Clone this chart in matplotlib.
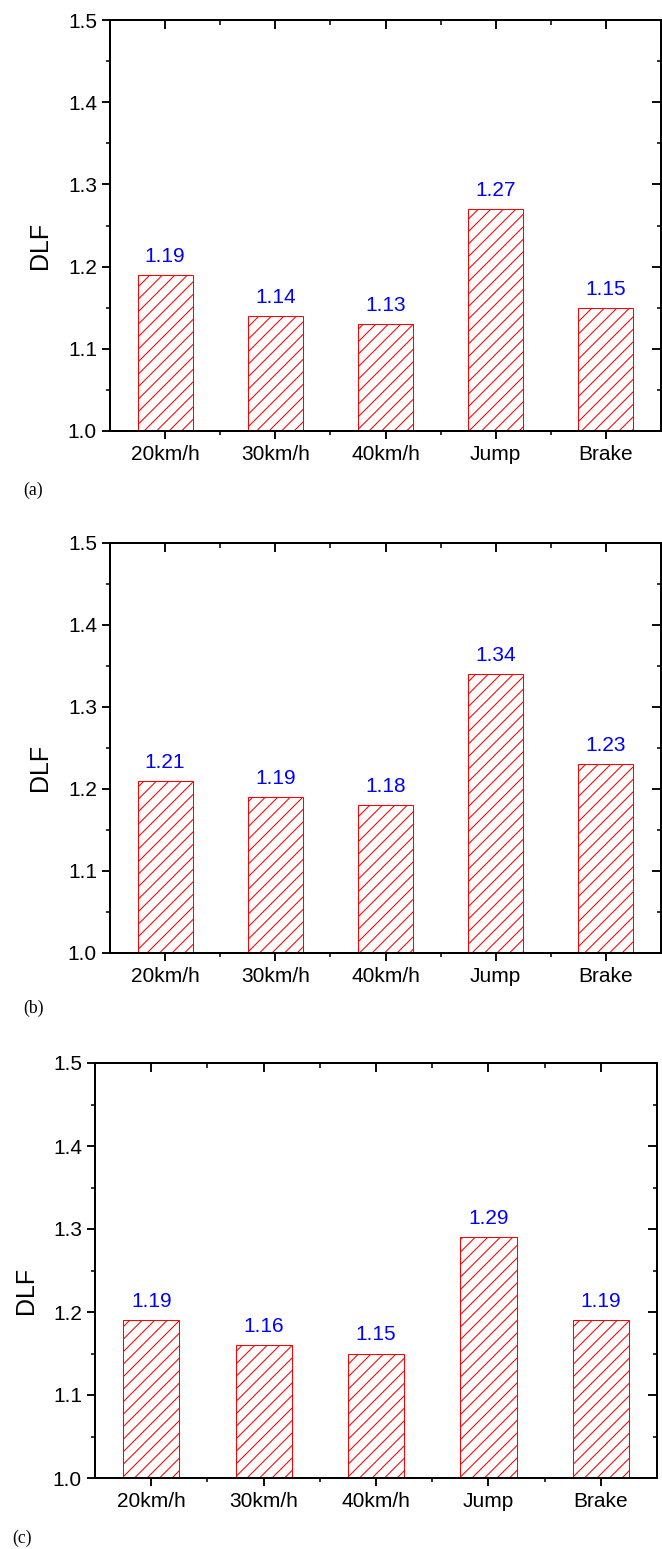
import matplotlib
matplotlib.use("Agg")
import matplotlib.pyplot as plt
from matplotlib.ticker import MultipleLocator, FixedLocator, NullFormatter

categories = ['20km/h', '30km/h', '40km/h', 'Jump', 'Brake']
dlf_a = [1.19, 1.14, 1.13, 1.27, 1.15]
dlf_b = [1.21, 1.19, 1.18, 1.34, 1.23]
dlf_c = [1.19, 1.16, 1.15, 1.29, 1.19]
panel_labels = ['(a)', '(b)', '(c)']
ylabel = 'DLF'

W, H = 662, 1549
DPI = 75
plt.rcParams['font.family'] = ['Liberation Sans', 'DejaVu Sans']
plt.rcParams['hatch.linewidth'] = 1.0
plt.rcParams['hatch.color'] = '#FF0000'

fig = plt.figure(figsize=(W / DPI, H / DPI), dpi=DPI)

# (left, right, top, bottom) in pixels
boxes = [(110, 661, 20, 431), (110, 661, 543, 953), (95, 657, 1063, 1478)]
ylab_pos = [(40, 245), (40, 767), (26, 1290)]
plab_pos = [(23, 490), (23, 1008), (12, 1538)]
datasets = [dlf_a, dlf_b, dlf_c]

fs = 20
for (l, r, t, b), data, (yx, yy), (px, py), plab in zip(boxes, datasets, ylab_pos, plab_pos, panel_labels):
    ax = fig.add_axes([l / W, 1 - b / H, (r - l) / W, (b - t) / H])
    x = list(range(1, len(categories) + 1))
    ax.bar(x, data, width=0.5, bottom=0, color='white', edgecolor='#FF0000',
           linewidth=1.0, hatch='//')
    for xi, v in zip(x, data):
        ax.annotate(f'{v:.2f}', (xi, v), xytext=(0, 12.5), textcoords='offset points',
                    ha='center', va='baseline', color='#0000FF', fontsize=fs)
    ax.set_xlim(0.5, 5.5)
    ax.set_ylim(1.0, 1.5)
    ax.set_xticks(x)
    ax.set_xticklabels(categories, fontsize=fs)
    ax.xaxis.set_minor_locator(FixedLocator([1.5, 2.5, 3.5, 4.5]))
    ax.yaxis.set_major_locator(MultipleLocator(0.1))
    ax.yaxis.set_minor_locator(MultipleLocator(0.05))
    ax.yaxis.set_major_formatter(matplotlib.ticker.FormatStrFormatter('%.1f'))
    ax.tick_params(axis='both', which='major', direction='out', length=7.5, width=1.8,
                   labelsize=fs, pad=5)
    ax.tick_params(axis='both', which='minor', direction='out', length=4, width=1.5)
    ax.tick_params(axis='x', which='major', pad=6)
    for s in ax.spines.values():
        s.set_linewidth(1.8)

    axr = ax.twinx()
    axr.set_ylim(1.0, 1.5)
    axr.yaxis.set_major_locator(MultipleLocator(0.1))
    axr.yaxis.set_minor_locator(MultipleLocator(0.05))
    axr.yaxis.set_major_formatter(NullFormatter())
    axr.tick_params(axis='y', which='major', direction='in', length=8.5, width=1.8)
    axr.tick_params(axis='y', which='minor', direction='in', length=4, width=1.5)
    axt = ax.twiny()
    axt.set_xlim(0.5, 5.5)
    axt.set_xticks(x)
    axt.xaxis.set_major_formatter(NullFormatter())
    axt.xaxis.set_minor_locator(FixedLocator([1.5, 2.5, 3.5, 4.5]))
    axt.tick_params(axis='x', which='major', direction='in', length=8.5, width=1.8)
    axt.tick_params(axis='x', which='minor', direction='in', length=4.5, width=1.5)
    for a2 in (axr, axt):
        for s in a2.spines.values():
            s.set_linewidth(1.8)

    fig.text(yx / W, 1 - yy / H, ylabel, rotation=90, ha='center', va='center', fontsize=24)
    fig.text(px / W, 1 - py / H, plab, ha='left', va='center', fontsize=17,
             family=['Liberation Serif', 'DejaVu Serif'])

fig.savefig('out.png', dpi=DPI)
